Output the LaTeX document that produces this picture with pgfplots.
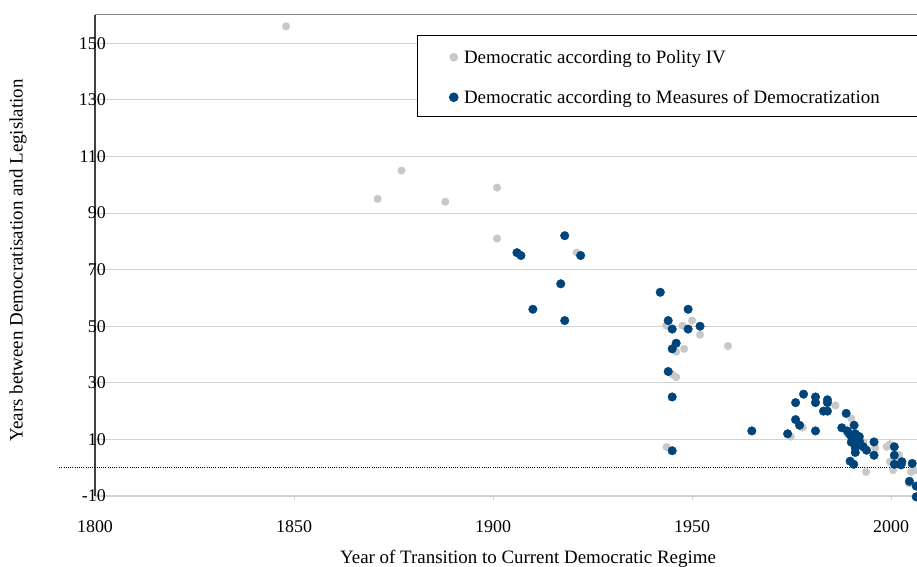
\documentclass[border=0pt]{standalone}
\usepackage{fontspec}
\setmainfont{Liberation Serif}
\usepackage{pgfplots}
\pgfplotsset{compat=1.18}
\usepackage{pgfplotstable}

\definecolor{polgray}{RGB}{200,200,200}
\definecolor{mdblue}{RGB}{0,68,124}
\definecolor{gridgray}{RGB}{210,210,210}
\definecolor{axisdark}{RGB}{64,64,64}
\definecolor{framegray}{RGB}{140,140,140}

% Year of transition vs. years between democratisation and legislation
\pgfplotstableread{
year gap
1848 156
1871 95
1877 105
1888 94
1901 99
1901 81
1921 76
1943.5 50.2
1947.6 50.2
1950 52
1952 47
1959 43
1946 41
1948 42
1945 33
1946 32
1943.6 7.3
1974.8 11
1977.8 14.2
1986 22
1990 17.4
1989 12
1990 10
1991 8
1992 11
1993 9
1994 6
1993.7 -1.5
1996 7
1998.9 7.4
1999.7 8.3
1999.7 2.1
2000.5 -0.9
2001.5 3
2002 4.5
2005 -1.5
2006 -1
2004.5 -5.5
}\politydata

\pgfplotstableread{
year gap
1906 76
1907 75
1918 82
1922 75
1917 65
1910 56
1918 52
1942 62
1949 56
1944 52
1945 49
1949 49
1952 50
1946 44
1945 42
1944 34
1945 25
1945 6
1965 13
1974 12
1976 17
1977 15
1976 23
1978 26
1981 25
1981 23
1981 13
1984 24
1984 23
1983 20
1984 20
1987.6 14.1
1988.7 19.2
1990.7 15
1989 13
1989.5 12
1990 11
1990.5 10
1991 12
1991.5 11
1992 11
1990 9
1991 8.5
1991 7
1992 9.5
1995.7 9.1
1995.7 4.4
1993 7.4
1993.8 6.2
1991 5.4
1989.7 2.3
1990.6 1.2
2000.8 7.4
2000.8 4.4
2000.8 1.2
2002.7 2.1
2002.5 1
2005.3 1.5
2004.6 -4.8
2006.3 -6.5
2006.3 -10.3
}\mddata

\begin{document}
\begin{tikzpicture}
\path[use as bounding box] (0,0) rectangle (917bp,567bp);
\begin{axis}[
  at={(95bp,71bp)}, anchor=south west,
  scale only axis, width=822bp, height=481bp,
  xmin=1800, xmax=2006.5, ymin=-10, ymax=160,
  clip=false,
  axis x line*=bottom, axis y line*=left,
  axis line style={-},
  x axis line style={draw=gridgray, line width=1.3bp},
  y axis line style={draw=axisdark, line width=1.3bp},
  xtick={1800,1850,1900,1950,2000},
  ytick={-10,10,...,150},
  ymajorgrids, grid style={draw=gridgray, line width=1bp},
  tick align=outside, major tick length=4bp,
  xtick style={draw=gridgray, line width=1bp},
  ytick style={draw=none},
  tick label style={font=\fontsize{18}{20}\selectfont},
  /pgf/number format/assume math mode=true,
  /pgf/number format/1000 sep={},
  xticklabel style={anchor=base, yshift=-32bp},
  yticklabel style={anchor=east, inner sep=0pt, xshift=15bp},
  xlabel={Year of Transition to Current Democratic Regime},
  ylabel={Years between Democratisation and Legislation},
  label style={font=\fontsize{19}{21}\selectfont},
  xlabel style={at={(rel axis cs:0.5268,0)}, anchor=base, yshift=-67bp},
  ylabel style={at={(rel axis cs:0,0.49)}, anchor=center, yshift=77bp},
  legend style={at={(rel axis cs:0.3917,0.9584)}, anchor=north west,
    draw=black, line width=1bp, inner xsep=32bp, inner ysep=12bp,
    row sep=23.5bp, font=\fontsize{19}{21}\selectfont,
    nodes={inner sep=0pt, text height=16bp, text depth=0.5bp},
    /tikz/every odd column/.append style={column sep=6bp}},
  legend cell align=left,
  legend image code/.code={\draw[#1] plot coordinates {(0bp,-1.5bp)};},
]
\addplot[only marks, mark=*, mark size=3.8bp, mark options={draw=polgray, fill=polgray}]
  table[x=year, y=gap] {\politydata};
\addlegendentry{Democratic according to Polity IV}
\addplot[only marks, mark=*, mark size=4.3bp, mark options={draw=mdblue, fill=mdblue}]
  table[x=year, y=gap] {\mddata};
\addlegendentry{\makebox[450bp][l]{Democratic according to Measures of Democratization}}
% zero reference line
\addplot[forget plot, black, line width=0.8bp, dash pattern=on 1bp off 1.2bp]
  coordinates {(1791,0) (2012,0)};
% upper frame line
\draw[framegray, line width=1bp] (rel axis cs:0,1) -- (rel axis cs:1.05,1);
\end{axis}
\end{tikzpicture}
\end{document}
